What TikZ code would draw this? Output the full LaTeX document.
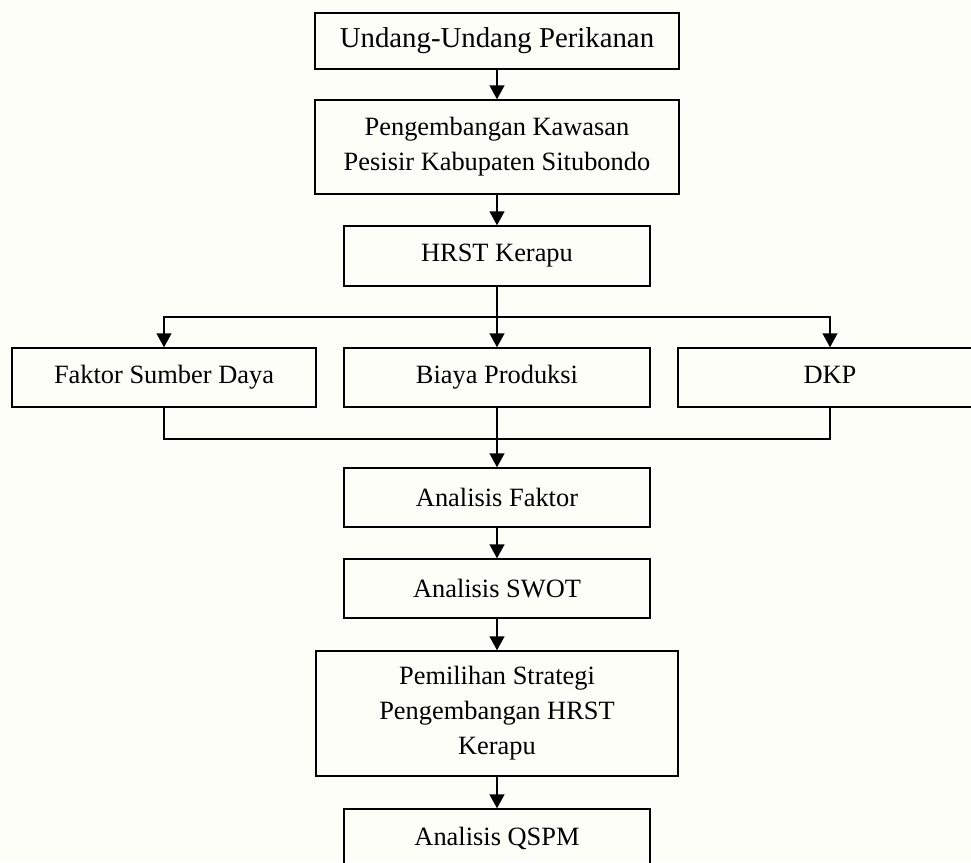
\documentclass[tikz,border=0pt]{standalone}
\usepackage{fontspec}
\setmainfont{Liberation Serif}
\usetikzlibrary{arrows.meta}
\definecolor{paper}{RGB}{253,254,248}
\tikzset{
  flow/.style={draw, line width=1.5pt, inner sep=0pt, align=center,
    font=\fontsize{26.4}{35}\selectfont},
  arr/.style={line width=1.5pt, -{Triangle[width=15pt,length=14pt]}},
  link/.style={line width=1.5pt}
}
\newcommand{\flowbox}[6]{\node[flow, minimum width=#4pt, minimum height=#5pt] (#1) at (#2,#3) {#6};}

\begin{document}
\begin{tikzpicture}[x=1pt,y=-1pt]
\fill[paper] (0,0) rectangle (971,862);
\useasboundingbox (0,0) rectangle (971,862);
% main column
\flowbox{uu}{497}{41}{364}{56}{\fontsize{28.8}{35}\selectfont Undang-Undang Perikanan}
\flowbox{pk}{497}{147}{364}{94}{Pengembangan Kawasan\\Pesisir Kabupaten Situbondo}
\flowbox{hrst}{497}{256}{306}{60}{HRST Kerapu}
% row of three
\flowbox{fsd}{164}{377.5}{304}{59}{Faktor Sumber Daya}
\flowbox{bp}{497}{377.5}{306}{59}{Biaya Produksi}
\flowbox{dkp}{830}{377.5}{304}{59}{\vphantom{g}DKP}
% analysis steps
\flowbox{af}{497}{497.5}{306}{59}{Analisis Faktor}
\flowbox{swot}{497}{588.5}{306}{59}{Analisis SWOT}
\flowbox{ps}{497}{713.5}{362}{125}{Pemilihan Strategi\\Pengembangan HRST\\Kerapu}
\flowbox{qspm}{497}{838.5}{306}{59}{Analisis QSPM}
% split and merge points
\coordinate (split) at (497,317);
\coordinate (merge) at (497,439);
% connectors
\draw[arr] (uu) -- (pk);
\draw[arr] (pk) -- (hrst);
\draw[link] (hrst) -- (split);
\draw[arr] (split) -| (fsd);
\draw[arr] (split) -- (bp);
\draw[arr] (split) -| (dkp);
\draw[link] (fsd) |- (merge);
\draw[link] (dkp) |- (merge);
\draw[link] (bp) -- (merge);
\draw[arr] (merge) -- (af);
\draw[arr] (af) -- (swot);
\draw[arr] (swot) -- (ps);
\draw[arr] (ps) -- (qspm);
\end{tikzpicture}
\end{document}
